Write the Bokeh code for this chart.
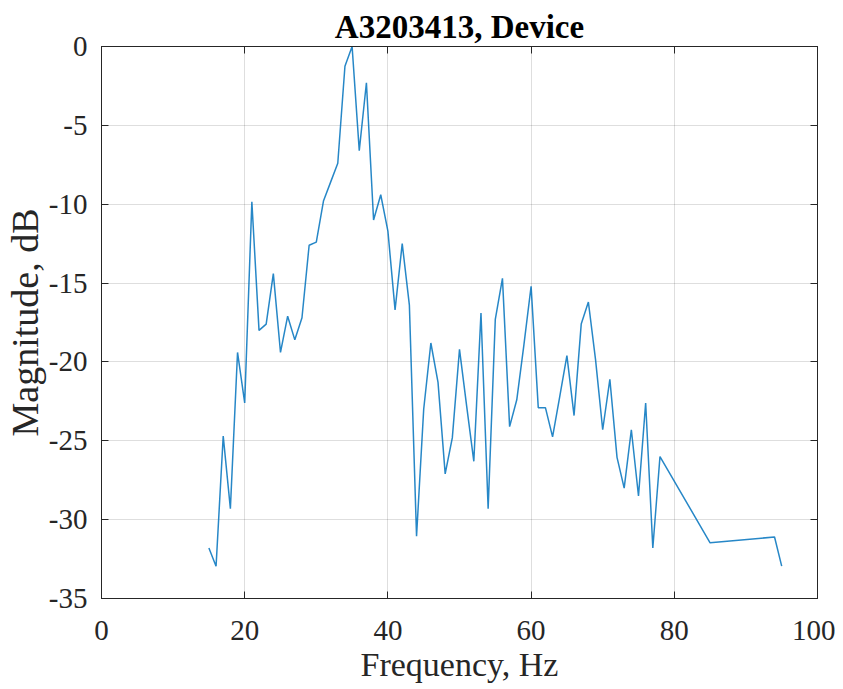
from bokeh.plotting import figure
from bokeh.models import Range1d, LinearAxis, SingleIntervalTicker, ColumnDataSource, CustomJSTickFormatter
from bokeh.embed import file_html
from bokeh.resources import INLINE

freq_hz = [15, 16, 17, 18, 19, 20, 21, 22, 23, 24, 25, 26, 27, 28, 29, 30,
           31, 32, 33, 34, 35, 36, 37, 38, 39, 40, 41, 42, 43, 44, 45, 46,
           47, 48, 49, 50, 51, 52, 53, 54, 55, 56, 57, 58, 59, 60, 61, 62,
           63, 64, 65, 66, 67, 68, 69, 70, 71, 72, 73, 74, 75, 76, 77, 78,
           85, 94, 95]
magnitude_db = [-31.8, -32.95, -24.7, -29.3, -19.4, -22.6, -9.85, -18.0, -17.6, -14.4,
                -19.4, -17.1, -18.6, -17.2, -12.6, -12.4, -9.8, -8.6, -7.4, -1.25,
                0.0, -6.6, -2.3, -11.0, -9.4, -11.7, -16.7, -12.5, -16.4, -31.05,
                -23.0, -18.8, -21.3, -27.1, -24.8, -19.2, -22.8, -26.3, -16.9, -29.3,
                -17.3, -14.7, -24.1, -22.4, -18.9, -15.2, -22.9, -22.9, -24.75, -22.2,
                -19.6, -23.4, -17.6, -16.2, -19.85, -24.3, -21.1, -26.05, -28.0, -24.3,
                -28.5, -22.6, -31.8, -26.0, -31.47, -31.1, -32.95]

x_tick_values = [0, 20, 40, 60, 80, 100]
y_tick_values = [-35, -30, -25, -20, -15, -10, -5, 0]
title_text = "A3203413, Device"
x_label = "Frequency, Hz"
y_label = "Magnitude, dB"

FONT = "Liberation Serif"
AX = "#262626"

src = ColumnDataSource(dict(f=freq_hz, m=magnitude_db))

p = figure(output_backend="svg", toolbar_location=None,
           frame_width=716, frame_height=552,
           min_border_left=93, min_border_right=18,
           min_border_top=46, min_border_bottom=75,
           x_range=Range1d(0, 100), y_range=Range1d(-35, 0),
           x_axis_location=None, y_axis_location=None,
           background_fill_color="white", border_fill_color="white")

p.line("f", "m", source=src, line_color="#0072BD", line_width=1.5, line_alpha=0.85)

xt = SingleIntervalTicker(interval=20)
yt = SingleIntervalTicker(interval=5)

blank = CustomJSTickFormatter(code="return ''")


def style_axis(ax):
    ax.axis_line_color = AX
    ax.axis_line_width = 1
    ax.major_tick_line_color = AX
    ax.major_tick_in = 7
    ax.major_tick_out = 0
    ax.minor_tick_in = 0
    ax.minor_tick_out = 0
    ax.major_label_text_font = FONT
    ax.major_label_text_color = AX
    ax.axis_label_text_font = FONT
    ax.axis_label_text_font_style = "normal"
    ax.axis_label_text_color = AX
    ax.major_label_text_font_size = "29px"


xb = LinearAxis(ticker=xt, axis_label=x_label,
                major_label_overrides={v: str(v) for v in x_tick_values})
style_axis(xb)
xb.axis_label_text_font_size = "34px"
xb.major_label_standoff = 22
xb.axis_label_standoff = 3
p.add_layout(xb, "below")

yl = LinearAxis(ticker=yt, axis_label=y_label,
                major_label_overrides={v: str(v) for v in y_tick_values})
style_axis(yl)
yl.axis_label_text_font_size = "38px"
yl.major_label_standoff = 14
yl.axis_label_standoff = 0
p.add_layout(yl, "left")

xa = LinearAxis(ticker=xt, formatter=blank)
style_axis(xa)
xa.major_label_standoff = 0
p.add_layout(xa, "above")

yr = LinearAxis(ticker=yt, formatter=blank)
style_axis(yr)
yr.major_label_standoff = 0
p.add_layout(yr, "right")

p.xgrid.ticker = xt
p.ygrid.ticker = yt
p.xgrid.grid_line_color = "#000000"
p.ygrid.grid_line_color = "#000000"
p.xgrid.grid_line_alpha = 0.13
p.ygrid.grid_line_alpha = 0.13

p.outline_line_color = AX
p.outline_line_width = 1

p.title.text = title_text
p.title.align = "center"
p.title.text_font = FONT
p.title.text_font_style = "bold"
p.title.text_font_size = "33px"
p.title.text_color = "#000000"
p.title.offset = 0
p.title.standoff = 4

open("out.html", "w").write(file_html(p, INLINE))
